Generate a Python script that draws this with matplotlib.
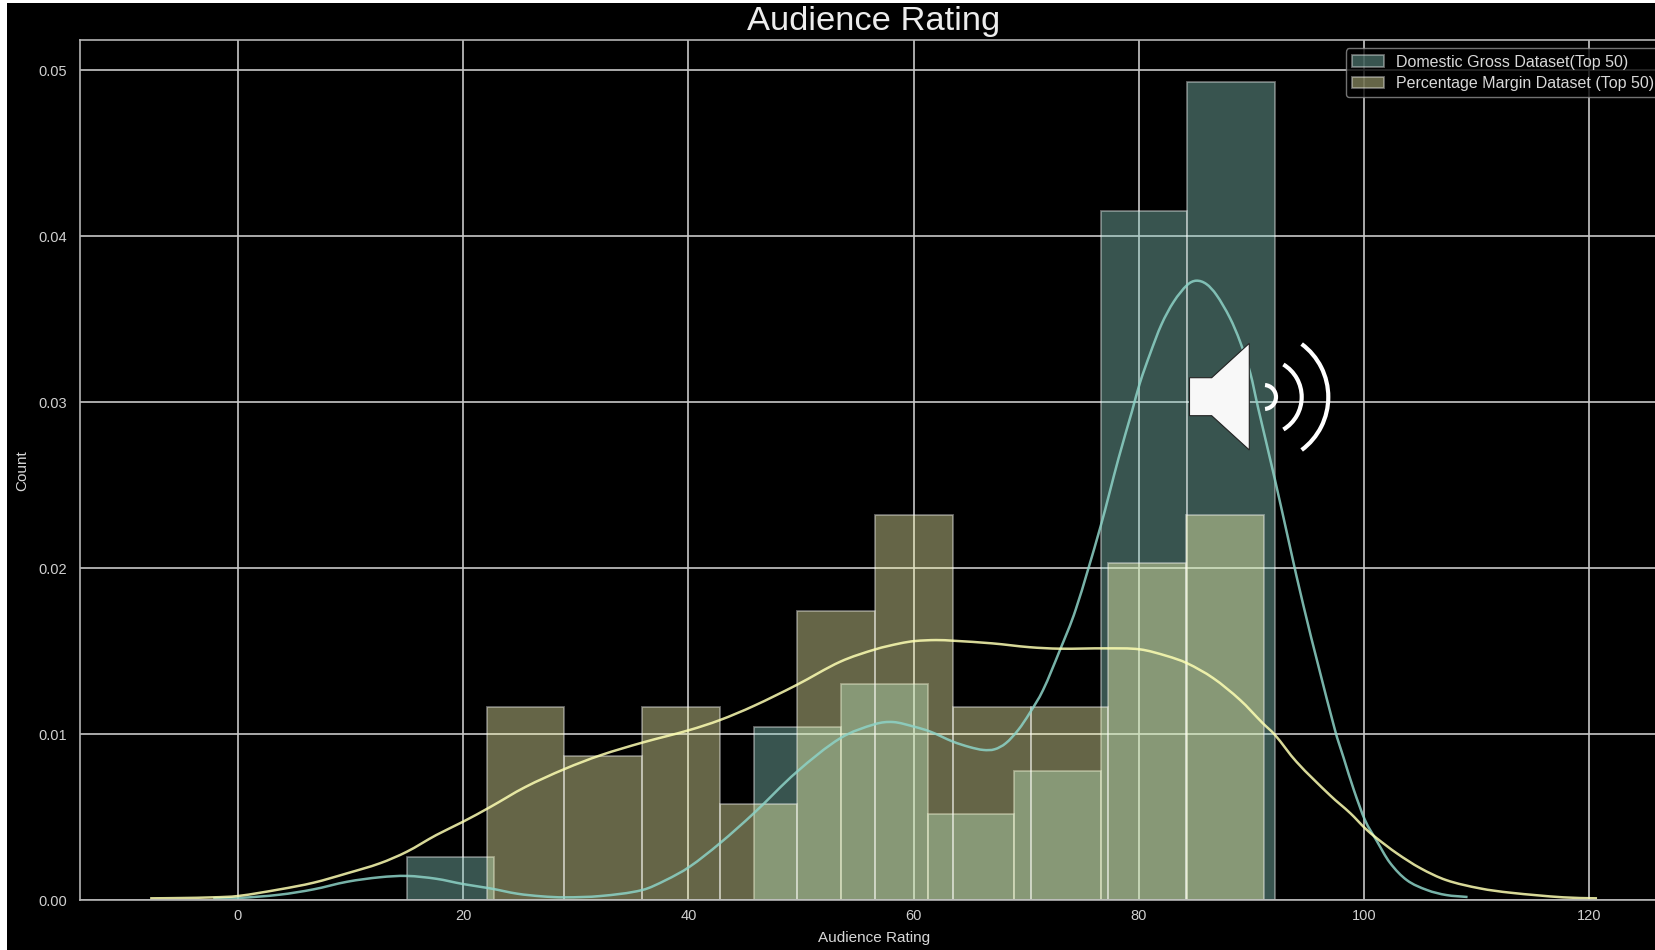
import matplotlib
matplotlib.use('Agg')
import matplotlib.pyplot as plt
import numpy as np
from matplotlib.patches import Arc, PathPatch, Polygon, Rectangle
from matplotlib.path import Path

W, H = 1656, 950

domestic_edges = [15.04, 22.74, 30.45, 38.15, 45.85, 53.56, 61.26, 68.96, 76.67, 84.25, 92.07]
domestic_hist = [0.0026, 0, 0, 0, 0.0104, 0.0130, 0.0052, 0.0078, 0.0415, 0.0493]
margin_edges = [22.08, 28.98, 35.88, 42.79, 49.69, 56.59, 63.49, 70.39, 77.3, 84.2, 91.1]
margin_hist = [0.0116, 0.0087, 0.0116, 0.0058, 0.0174, 0.0232, 0.0116, 0.0116, 0.0203, 0.0232]

domestic_kde_x = [-2.2, 0, 3.7, 6.7, 9.7, 12.6, 15, 17.6, 20, 22.4, 24.8, 27, 29, 32.2, 35.9, 38, 40.1, 42.8,
                  45.8, 49.6, 53.5, 56.6, 58.2, 60, 61.5, 63.5, 65, 66.2, 67.2, 68.2, 69.3, 70.3, 71.5, 73, 74.4,
                  76.6, 78.2, 79.4, 80.1, 81, 82, 83.1, 84.3, 85.1, 86, 86.9, 88.1, 89, 89.9, 90.6, 92.1, 94.6,
                  97.4, 98.2, 99.1, 100.1, 101.1, 102.3, 103.8, 105.6, 107.3, 109.2]
domestic_kde_y = [0.0001, 0.00012, 0.00032, 0.00064, 0.0011, 0.00137, 0.00145, 0.00128, 0.00096, 0.0007,
                  0.00038, 0.00022, 0.00016, 0.00024, 0.0006, 0.0012, 0.002, 0.00342,
                  0.00522, 0.0077, 0.00975, 0.0106, 0.01072, 0.01045, 0.01014, 0.00954, 0.00921, 0.00904, 0.00908,
                  0.00945, 0.01025, 0.01125, 0.01265, 0.01506, 0.0175,
                  0.02249, 0.0266, 0.02945, 0.03115, 0.0329, 0.03465, 0.03604, 0.03705, 0.03731, 0.03711, 0.03645,
                  0.03506, 0.03363, 0.03175, 0.02964, 0.0253, 0.0178,
                  0.0103, 0.00855, 0.00663, 0.0048, 0.0036, 0.00225, 0.0012, 0.0006, 0.0003, 0.00018]

margin_kde_x = [-7.8, -5, -2.2, 0, 3.7, 6.7, 9.7, 12.6, 15, 17.6, 20, 22.4, 25.5, 29, 32.2, 35.9, 40.1, 42.8,
                45.8, 49.6, 53.5, 56.6, 58.8, 60.1, 62, 63.5, 67, 70.3, 73, 77.1, 80.1, 82.5, 84.3, 86.6, 89,
                91, 92.1, 94, 97, 98.8, 100.1, 101.1, 102.9, 105, 107.3, 110.3, 113, 117.7, 120.7]
margin_kde_y = [0.0001, 0.00012, 0.00016, 0.00024, 0.00064, 0.00104, 0.00161, 0.00221, 0.00291, 0.00391,
                0.00472, 0.0056, 0.0068, 0.00789, 0.00872, 0.00948, 0.01024, 0.01084,
                0.01169, 0.01295, 0.01436, 0.0151, 0.01546, 0.0156, 0.01566, 0.01562, 0.01546, 0.01523, 0.01514,
                0.01516, 0.0151, 0.0147, 0.01426, 0.01337, 0.01205,
                0.01066, 0.00994, 0.00833, 0.0063, 0.00522, 0.00432, 0.00374, 0.00282, 0.00192, 0.0012, 0.0007,
                0.00044, 0.00016, 0.0001]

x_ticks = [0, 20, 40, 60, 80, 100, 120]
y_ticks = [0.00, 0.01, 0.02, 0.03, 0.04, 0.05]

teal = '#8dd3c7'
yellow = '#feffb3'
matplotlib.style.use('dark_background')
plt.rcParams['font.family'] = ['Liberation Sans', 'DejaVu Sans']


def smooth_path(xs, ys):
    # cubic segments through the read points so the curve has no corners
    pts = np.column_stack([xs, ys])
    verts = [pts[0]]
    codes = [Path.MOVETO]
    for i in range(len(pts) - 1):
        p0 = pts[max(i - 1, 0)]
        p1 = pts[i]
        p2 = pts[i + 1]
        p3 = pts[min(i + 2, len(pts) - 1)]
        h = p2[0] - p1[0]
        c1 = p1 + (p2 - p0) * h / (3 * (p2[0] - p0[0]))
        c2 = p2 - (p3 - p1) * h / (3 * (p3[0] - p1[0]))
        verts += [c1, c2, p2]
        codes += [Path.CURVE4] * 3
    return Path(verts, codes)


fig = plt.figure(figsize=(W / 100, H / 100), dpi=100, facecolor='white')
fig.add_artist(Rectangle((7 / W, 0), 1 - 7 / W, 1 - 3 / H, transform=fig.transFigure,
                         facecolor='black', edgecolor='none', zorder=-1))

ax = fig.add_axes([80 / W, 1 - 900 / H, 1588 / W, 859.5 / H], facecolor='black')
ax.set_axisbelow(True)
ax.grid(True, color='#c8c8c8', lw=1.2)

ax.bar(domestic_edges[:-1], domestic_hist, width=np.diff(domestic_edges), align='edge', color=teal,
       edgecolor='white', lw=1.3, alpha=0.4, label='Domestic Gross Dataset(Top 50)')
ax.bar(margin_edges[:-1], margin_hist, width=np.diff(margin_edges), align='edge', color=yellow,
       edgecolor='white', lw=1.3, alpha=0.4, label='Percentage Margin Dataset (Top 50)')
ax.add_patch(PathPatch(smooth_path(domestic_kde_x, domestic_kde_y), facecolor='none', edgecolor=teal, lw=1.8, alpha=0.85))
ax.add_patch(PathPatch(smooth_path(margin_kde_x, margin_kde_y), facecolor='none', edgecolor=yellow, lw=1.8, alpha=0.85))

ax.set_xlim(-14.03, 127)
ax.set_ylim(0, 0.05178)
ax.set_xticks(x_ticks)
ax.set_yticks(y_ticks)
ax.set_yticklabels(['%.2f' % t for t in y_ticks])
ax.tick_params(length=0, labelsize=10.5, labelcolor='#d0d0d0')
ax.tick_params(axis='x', pad=6.5)
ax.tick_params(axis='y', pad=9)
for sp in ax.spines.values():
    sp.set_color('#b4b4b4')
    sp.set_linewidth(1.2)

ax.set_title('Audience Rating', fontsize=24.8, color='#ececec', pad=7.8)
ax.set_xlabel('Audience Rating', fontsize=11, color='#d8d8d8', labelpad=5.5)
ax.set_ylabel('Count', fontsize=11, color='#d8d8d8', labelpad=6.5)

leg = ax.legend(loc='upper right', fontsize=11.5, frameon=True, facecolor='black', edgecolor='#909090',
                framealpha=0.8, handlelength=2.0, handletextpad=0.76, borderpad=0.38, labelspacing=0.42)
for t in leg.get_texts():
    t.set_color('#d8d8d8')

# speaker icon pasted on top of the chart, in image pixels
overlay = fig.add_axes([0, 0, 1, 1], facecolor='none')
overlay.set_xlim(0, W)
overlay.set_ylim(H, 0)
overlay.axis('off')
overlay.add_patch(Polygon([(1189.5, 377.7), (1211.7, 377.7), (1249.3, 343.3), (1249.3, 450),
                           (1211.7, 415.7), (1189.5, 415.7)], facecolor='#f8f8f8', edgecolor='#222222', lw=0.8))
for cx, r, theta in [(1264, 12, 85), (1263.7, 38, 58.8), (1262.3, 66, 53.4)]:
    overlay.add_patch(Arc((cx, 397), 2 * r, 2 * r, theta1=-theta, theta2=theta, edgecolor='white', lw=3.0))

fig.savefig('out.png', dpi=100, facecolor='white')
